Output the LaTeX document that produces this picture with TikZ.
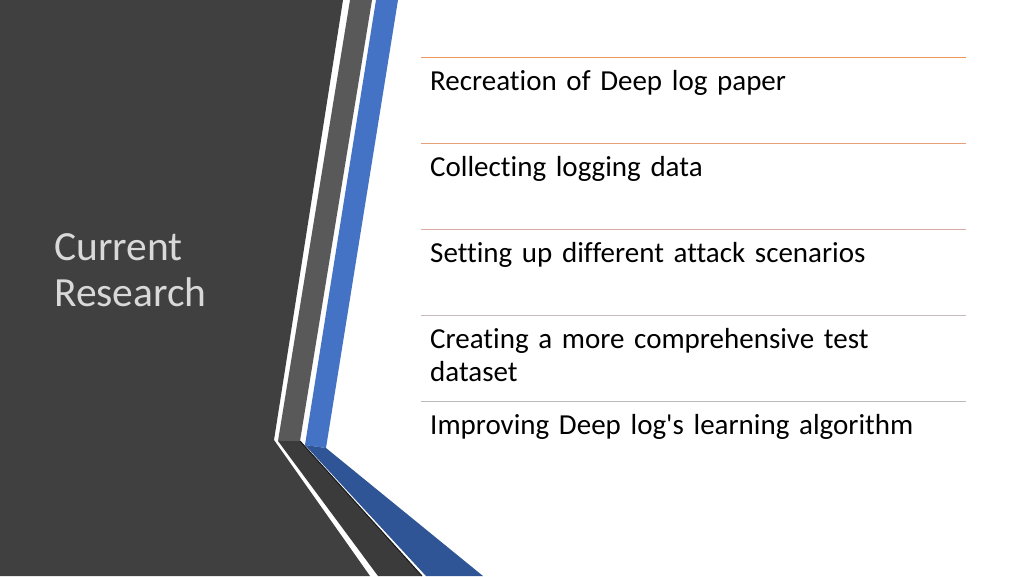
\documentclass[tikz,border=0pt]{standalone}
\usepackage{fontspec}
\setmainfont[Ligatures={NoCommon,NoRequired}]{Carlito}
\definecolor{bluehi}{RGB}{68,114,196}
\definecolor{bluelo}{RGB}{47,85,151}
\definecolor{ln0}{RGB}{237,150,90}
\definecolor{ln1}{RGB}{232,160,120}
\definecolor{ln2}{RGB}{220,170,165}
\definecolor{ln3}{RGB}{200,185,190}
\definecolor{ln4}{RGB}{185,185,190}
\begin{document}
\begin{tikzpicture}[x=1pt,y=-1pt,
  item/.style={anchor=north west,inner sep=0pt,font=\fontsize{29}{33}\selectfont,text width=520pt,align=left},
  sep/.style={line width=1pt}]
\useasboundingbox (0,0) rectangle (1024,576);
\fill[white] (0,0) rectangle (1024,576);
\fill[black!75] (0,0)--(343,0)--(274,440)--(370,576)--(0,576)--cycle;
\fill[black!65] (350,0)--(372,0)--(300,441)--(278,441)--cycle;
\fill[black!77] (278,441)--(300,441)--(422,576)--(378,576)--cycle;
\draw[black!90,line width=1pt] (300,441)--(422,576);
\fill[bluehi] (376,0)--(398,0)--(326,448)--(305,445)--cycle;
\fill[bluelo] (305,445)--(326,448)--(483,576)--(426,576)--cycle;
\node[anchor=west,inner sep=0pt,text=black!15,font=\fontsize{41.5}{46}\selectfont,align=left] (title) at (54,270) {Current\\Research};
\coordinate (l0a) at (421,57); \coordinate (l0b) at (966,57);
\coordinate (l1a) at (421,143); \coordinate (l1b) at (966,143);
\coordinate (l2a) at (421,229); \coordinate (l2b) at (966,229);
\coordinate (l3a) at (421,315); \coordinate (l3b) at (966,315);
\coordinate (l4a) at (421,401); \coordinate (l4b) at (966,401);
\draw[sep,ln0] (l0a)--(l0b);
\draw[sep,ln1] (l1a)--(l1b);
\draw[sep,ln2] (l2a)--(l2b);
\draw[sep,ln3] (l3a)--(l3b);
\draw[sep,ln4] (l4a)--(l4b);
\node[item] (t0) at (430,70) {Recreation of Deep log paper};
\node[item] (t1) at (430,156) {Collecting logging data};
\node[item] (t2) at (430,242) {Setting up different attack scenarios};
\node[item] (t3) at (430,328) {Creating a more comprehensive test\\dataset};
\node[item] (t4) at (430,414) {Improving Deep log\textquotesingle s learning algorithm};
\end{tikzpicture}
\end{document}
